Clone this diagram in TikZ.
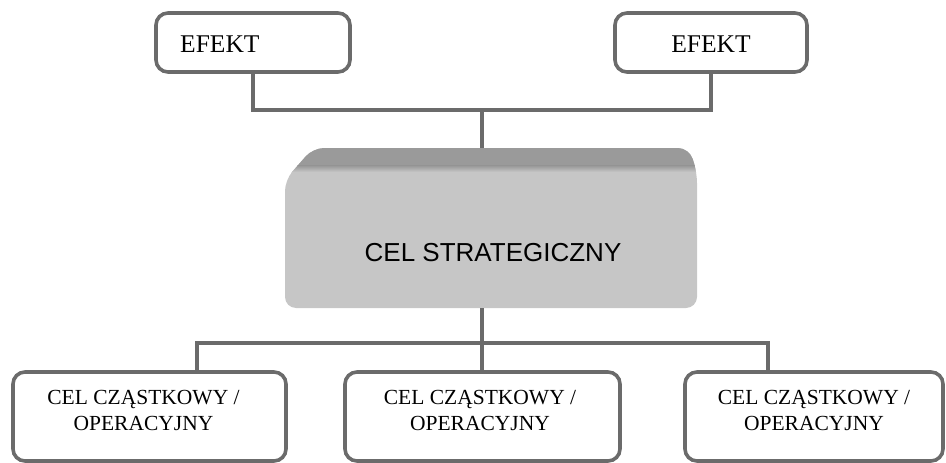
\documentclass[tikz,border=0pt]{standalone}
\usepackage{fontspec}
\setmainfont{Liberation Serif}
\setsansfont{Liberation Sans}
\definecolor{linegray}{HTML}{6B6B6B}
\definecolor{facegray}{HTML}{C6C6C6}
\definecolor{topgray}{HTML}{9A9A9A}
\tikzset{
  box/.style={draw=linegray, line width=3.6pt, rounded corners=12pt,
    fill=white, inner sep=0pt, minimum width=#1},
  link/.style={draw=linegray, line width=3.4pt},
  efekttxt/.style={font=\fontsize{25.5}{30}\selectfont, inner sep=0pt},
  celtxt/.style={font=\fontsize{21.5}{26}\selectfont, align=center, inner sep=0pt},
  strattxt/.style={font=\sffamily\fontsize{26}{30}\selectfont, inner sep=0pt},
}
\begin{document}
\begin{tikzpicture}[x=1pt, y=-1pt]
\useasboundingbox (0,0) rectangle (946,463);

% effect boxes
\node[box=194, minimum height=59] (efl) at (253,42.5) {};
\node[box=192, minimum height=59] (efr) at (711,42.5) {};
\node[efekttxt, anchor=base west] (eflt) at (180,52) {EFEKT};
\node[efekttxt, anchor=base] (efrt) at (711,52) {EFEKT};

% strategic goal block: bevelled top strip over a lighter front face
\node[inner sep=0pt, minimum width=412, minimum height=160] (strat) at (491,228) {};
\begin{scope}
  \clip[rounded corners=11pt] (285,240) -- (285,180) -- (313,148) -- (689,148)
    -- (697,172) -- (697,308) -- (285,308) -- cycle;
  \fill[facegray] (270,140) rectangle (710,320);
  \fill[topgray] (270,140) rectangle (710,166);
  \shade[top color=topgray, bottom color=facegray] (270,165.9) rectangle (710,172);
\end{scope}
\node[strattxt, anchor=base] (stratt) at (493,261) {CEL STRATEGICZNY};

% sub-goal boxes
\node[box=273, minimum height=89] (cl) at (149.5,416.5) {};
\node[box=275, minimum height=89] (cm) at (482.5,416.5) {};
\node[box=258, minimum height=89] (cr) at (814,416.5) {};
\node[celtxt] (clt) at (143.5,410) {CEL CZĄSTKOWY /\\OPERACYJNY};
\node[celtxt] (cmt) at (480,410) {CEL CZĄSTKOWY /\\OPERACYJNY};
\node[celtxt] (crt) at (814,410) {CEL CZĄSTKOWY /\\OPERACYJNY};

% junction points
\coordinate (jt) at (482,110);
\coordinate (jb) at (482,343);
\coordinate (bl) at (197,343);
\coordinate (br) at (768,343);

% connectors
\draw[link] (efl.south) |- (jt) -| (efr.south);
\draw[link] (jt) -- (jt |- strat.north);
\draw[link] (jb |- strat.south) -- (jb |- cm.north);
\draw[link] (bl |- cl.north) -- (bl) -- (br) -- (br |- cr.north);
\end{tikzpicture}
\end{document}
